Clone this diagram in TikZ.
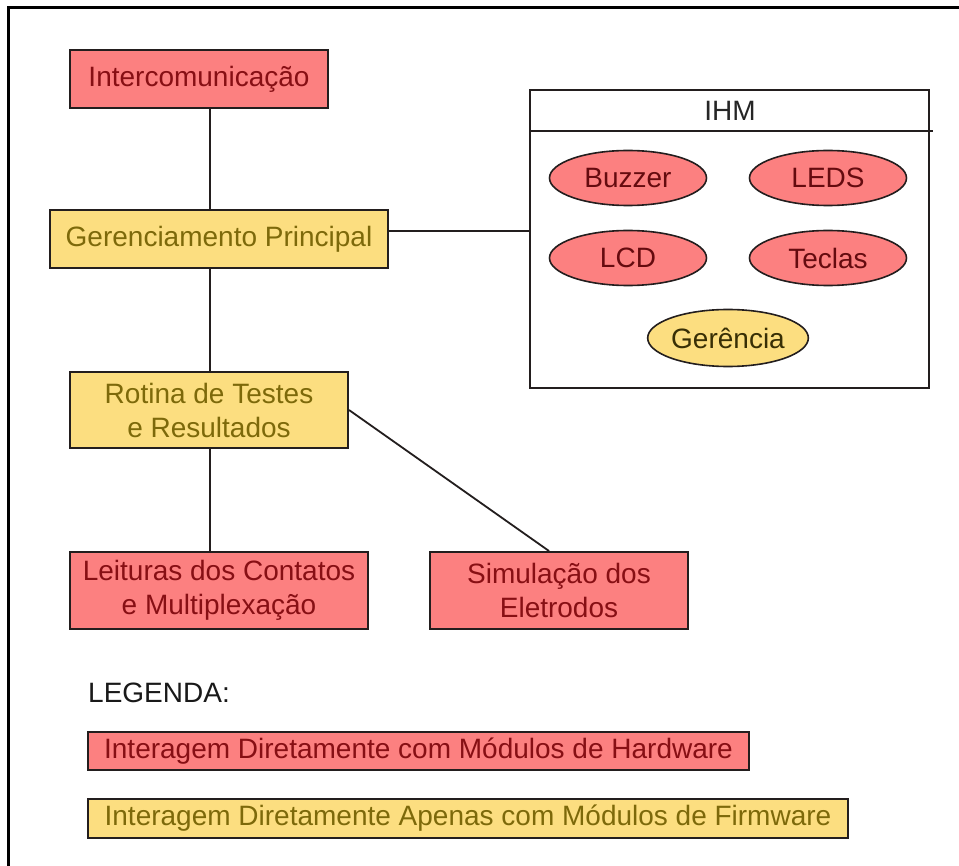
\documentclass[tikz,border=0pt]{standalone}
\usepackage{fontspec}
\setmainfont{Liberation Sans}
\usetikzlibrary{shapes.geometric}
\definecolor{hwfill}{RGB}{252,128,128}
\definecolor{hwtext}{RGB}{135,15,20}
\definecolor{fwfill}{RGB}{252,222,128}
\definecolor{fwtext}{RGB}{125,105,10}
\definecolor{edge}{RGB}{35,30,30}
\begin{document}
\begin{tikzpicture}[x=1pt,y=-1pt,
  every node/.style={font=\fontsize{28}{34}\selectfont, inner sep=0pt},
  box/.style={draw=edge, line width=2pt, align=center, rectangle},
  hw/.style={box, fill=hwfill, text=hwtext},
  fw/.style={box, fill=fwfill, text=fwtext},
  oval/.style={ellipse, draw=edge, line width=1.6pt, minimum width=157pt, minimum height=55pt},
  hwoval/.style={oval, fill=hwfill, text=hwtext!75!black},
  fwoval/.style={oval, fill=fwfill, text=fwtext!45!black},
  link/.style={draw=edge, line width=1.8pt},
  frame/.style={draw=black, line width=3pt}]
\useasboundingbox (0,0) rectangle (959,866);
\fill[white] (0,0) rectangle (959,866);

% outer frame (top and left edges)
\coordinate (fbl) at (8,866);
\coordinate (ftl) at (8,8);
\coordinate (ftr) at (959,8);
\draw[frame] (fbl) -- (ftl) -- (ftr);

% module blocks
\node[hw, minimum width=258pt, minimum height=58pt] (inter) at (199,79) {Intercomunicação};
\node[fw, minimum width=338pt, minimum height=58pt] (ger) at (219,239) {Gerenciamento Principal};
\node[fw, minimum width=278pt, minimum height=76pt] (rot) at (209,410) {Rotina de Testes\\e Resultados};
\node[hw, minimum width=298pt, minimum height=77pt] (lei) at (219,590.5) {Leituras dos Contatos\\e Multiplexação};
\node[hw, minimum width=258pt, minimum height=77pt] (sim) at (559,590.5) {Simulação dos\\Eletrodos};

% IHM container
\node[draw=edge, line width=2pt, minimum width=399pt, minimum height=298pt] (ihm) at (729.5,239) {};
\coordinate (hdr) at (0,131);
\draw[link] (ihm.west |- hdr) -- ([xshift=3pt]ihm.east |- hdr);
\node[text=black!85] (ihmlbl) at (730,111) {IHM};
\node[hwoval] (buz) at (628,178) {Buzzer};
\node[hwoval] (leds) at (828,178) {LEDS};
\node[hwoval] (lcd) at (628,258) {LCD};
\node[hwoval] (tec) at (828,258) {Teclas};
\node[fwoval, minimum height=57pt] (gerc) at (728,338) {Gerência};

% connectors
\coordinate (spine) at (210,0);
\draw[link] (inter.south -| spine) -- (ger.north -| spine);
\draw[link] (ger.south -| spine) -- (rot.north -| spine);
\draw[link] (rot.south -| spine) -- (lei.north -| spine);
\draw[link] (rot.east) -- ([xshift=-10pt]sim.north);
\draw[link] ([yshift=8pt]ger.east) -- ([yshift=8pt]ger.east -| ihm.west);

% legend
\node[anchor=west, text=black!90] (leg) at (88,693) {LEGENDA:};
\node[hw, minimum width=661pt, minimum height=38pt] (lhw) at (418.5,751) {Interagem Diretamente com Módulos de Hardware};
\node[fw, minimum width=760pt, minimum height=39pt] (lfw) at (468,818.5) {Interagem Diretamente Apenas com Módulos de Firmware};
\end{tikzpicture}
\end{document}
